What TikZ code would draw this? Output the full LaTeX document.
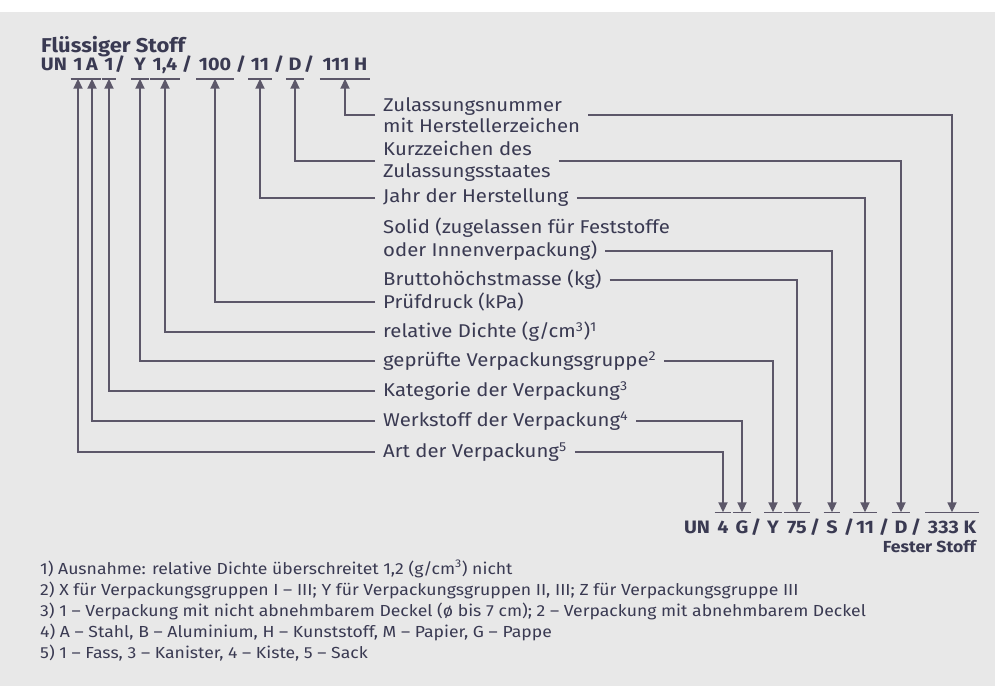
\documentclass[tikz,border=0pt]{standalone}
\usepackage{fontspec}
\setmainfont{Fira Sans}[FakeStretch=1.1]
\usetikzlibrary{arrows.meta}
\definecolor{txt}{HTML}{3A3A52}
\definecolor{lin}{HTML}{5C5769}
\definecolor{bg}{HTML}{E8E8E8}

\begin{document}
\begin{tikzpicture}[x=1pt,y=-1pt,
	tok/.style={anchor=base,font=\fontsize{18}{20}\selectfont\bfseries,text=txt,inner xsep=2.5pt,inner ysep=8.5pt,text height=12pt,text depth=0pt},
	desc/.style={anchor=west,inner sep=0pt,align=left,font=\fontsize{18.5}{21.5}\selectfont,text=txt},
	fnote/.style={anchor=base west,inner sep=0pt,font=\fontsize{16}{18}\selectfont,text=txt},
	lead/.style={draw=lin,line width=1.8pt,shorten <=8pt,-{Triangle[width=9pt,length=10pt]}},
	elbow/.style={to path={-| (\tikztotarget)}},
	bar/.style={draw=lin,line width=1.6pt}]

	\useasboundingbox (0,0) rectangle (995,686);
	\fill[white] (0,0) rectangle (995,12);
	\fill[bg] (0,12) rectangle (995,686);

	% fluessiger Stoff
	\node[anchor=base west,inner sep=0pt,font=\fontsize{20}{22}\selectfont\bfseries,text=txt] (fl) at (41, 52) {Flüssiger Stoff};
	\node[tok] (tUN)  at (54, 70)  {UN};
	\node[tok] (t1)   at (78, 70)  {1};
	\node[tok] (tA)   at (92, 70)  {A};
	\node[tok] (t2)   at (109, 70) {1};
	\node[tok] (ts1)  at (120, 70) {/};
	\node[tok] (tY)   at (140, 70) {Y};
	\node[tok] (t14)  at (165, 70) {1,4};
	\node[tok] (ts2)  at (187, 70) {/};
	\node[tok] (t100) at (215, 70) {100};
	\node[tok] (ts3)  at (241, 70) {/};
	\node[tok] (t11)  at (260, 70) {11};
	\node[tok] (ts4)  at (279, 70) {/};
	\node[tok] (tD)   at (295, 70) {D};
	\node[tok] (ts5)  at (309, 70) {/};
	\node[tok] (t111) at (345, 70) {111 H};

	% fester Stoff
	\node[tok] (bUN)  at (697, 533) {UN};
	\node[tok] (b4)   at (723, 533) {4};
	\node[tok] (bG)   at (742, 533) {G};
	\node[tok] (bs1)  at (756, 533) {/};
	\node[tok] (bY)   at (773, 533) {Y};
	\node[tok] (b75)  at (797, 533) {75};
	\node[tok] (bs2)  at (815, 533) {/};
	\node[tok] (bS)   at (832, 533) {S};
	\node[tok] (bs3)  at (849, 533) {/};
	\node[tok] (b11)  at (865, 533) {11};
	\node[tok] (bs4)  at (884, 533) {/};
	\node[tok] (bD)   at (901, 533) {D};
	\node[tok] (bs5)  at (916, 533) {/};
	\node[tok] (b333) at (952, 533) {333 K};
	\node[anchor=base east,inner sep=0pt,font=\fontsize{16}{18}\selectfont\bfseries,text=txt] (fe) at (976, 552) {Fester Stoff};

	\foreach \t in {t1,tA,t2,tY,t14,t100,t11,tD,t111}
		\draw[bar] (\t.south west) -- (\t.south east);
	\foreach \t in {b4,bG,bY,b75,bS,b11,bD,b333}
		\draw[bar] (\t.north west) -- (\t.north east);

	% Bedeutung
	\node[desc] (zul)    at (383, 115) {Zulassungsnummer\\mit Herstellerzeichen};
	\node[desc] (kurz)   at (383, 161) {Kurzzeichen des\\Zulassungsstaates};
	\node[desc] (jahr)   at (383, 198) {Jahr der Herstellung};
	\node[desc] (solid)  at (383, 228) {Solid (zugelassen für Feststoffe};
	\node[desc] (inner)  at (383, 251) {oder Innenverpackung)};
	\node[desc] (brutto) at (383, 280) {Bruttohöchstmasse (kg)};
	\node[desc] (pruef)  at (383, 302) {Prüfdruck (kPa)};
	\node[desc] (dichte) at (383, 332) {relative Dichte (g/cm\textsuperscript{3})\textsuperscript{1}};
	\node[desc] (gruppe) at (383, 361) {geprüfte Verpackungsgruppe\textsuperscript{2}};
	\node[desc] (kat)    at (383, 391) {Kategorie der Verpackung\textsuperscript{3}};
	\node[desc] (werk)   at (383, 421) {Werkstoff der Verpackung\textsuperscript{4}};
	\node[desc] (art)    at (383, 452) {Art der Verpackung\textsuperscript{5}};

	\path (zul.west)    edge[lead,elbow] (t111.south);
	\path (kurz.west)   edge[lead,elbow] (tD.south);
	\path (jahr.west)   edge[lead,elbow] (t11.south);
	\path (pruef.west)  edge[lead,elbow] (t100.south);
	\path (dichte.west) edge[lead,elbow] (t14.south);
	\path (gruppe.west) edge[lead,elbow] (tY.south);
	\path (kat.west)    edge[lead,elbow] (t2.south);
	\path (werk.west)   edge[lead,elbow] (tA.south);
	\path (art.west)    edge[lead,elbow] (t1.south);

	\path (zul.east)    edge[lead,elbow] (b333.north);
	\path (kurz.east)   edge[lead,elbow] (bD.north);
	\path (jahr.east)   edge[lead,elbow] (b11.north);
	\path (inner.east)  edge[lead,elbow] (bS.north);
	\path (brutto.east) edge[lead,elbow] (b75.north);
	\path (gruppe.east) edge[lead,elbow] (bY.north);
	\path (werk.east)   edge[lead,elbow] (bG.north);
	\path (art.east)    edge[lead,elbow] (b4.north);

	% Fussnoten
	\node[fnote] (n1) at (40, 574) {1) Ausnahme: relative Dichte überschreitet 1,2 (g/cm\textsuperscript{3}) nicht};
	\node[fnote] (n2) at (40, 595) {2) X für Verpackungsgruppen I – III; Y für Verpackungsgruppen II, III; Z für Verpackungsgruppe III};
	\node[fnote] (n3) at (40, 616) {3) 1 – Verpackung mit nicht abnehmbarem Deckel (ø bis 7 cm); 2 – Verpackung mit abnehmbarem Deckel};
	\node[fnote] (n4) at (40, 637) {4) A – Stahl, B – Aluminium, H – Kunststoff, M – Papier, G – Pappe};
	\node[fnote] (n5) at (40, 658) {5) 1 – Fass, 3 – Kanister, 4 – Kiste, 5 – Sack};

\end{tikzpicture}
\end{document}
